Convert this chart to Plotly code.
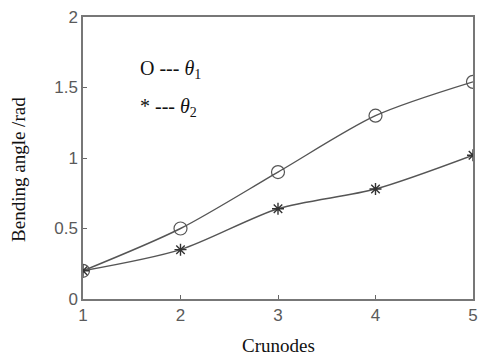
import plotly.graph_objects as go

crunodes = [1, 2, 3, 4, 5]
theta1 = [0.2, 0.5, 0.9, 1.3, 1.54]
theta2 = [0.2, 0.35, 0.64, 0.78, 1.02]
x_ticks = [1, 2, 3, 4, 5]
y_ticks = [0, 0.5, 1, 1.5, 2]
y_tick_text = ["0", "0.5", "1", "1.5", "2"]

line_col = "#555555"
fig = go.Figure()
fig.add_trace(go.Scatter(x=crunodes, y=theta1, mode="lines+markers",
                         line=dict(color=line_col, width=1.4, shape="spline", smoothing=0.8),
                         marker=dict(symbol="circle-open", size=13, color=line_col, line=dict(width=1.2))))
fig.add_trace(go.Scatter(x=crunodes, y=theta2, mode="lines+markers",
                         line=dict(color=line_col, width=1.4, shape="spline", smoothing=0.8),
                         marker=dict(symbol="asterisk-open", size=10, color="#333", line=dict(width=1.4))))

tick_font = dict(family="Liberation Sans, Arial", size=17, color="#5a5a5a")
fig.update_layout(
    width=486, height=360, showlegend=False,
    paper_bgcolor="white", plot_bgcolor="white",
    margin=dict(l=83, r=8, t=13, b=61),
    xaxis=dict(range=[1, 5], tickvals=x_ticks, ticks="inside", ticklen=4, tickcolor="#666",
               showline=True, linecolor="#777", linewidth=1.5, mirror=True, showgrid=False, zeroline=False,
               tickfont=tick_font),
    yaxis=dict(range=[0, 2], tickvals=y_ticks, ticktext=y_tick_text, ticks="inside", ticklen=4, tickcolor="#666",
               showline=True, linecolor="#777", linewidth=1.5, mirror=True, showgrid=False, zeroline=False,
               tickfont=tick_font),
    annotations=[
        dict(text="Crunodes", xref="paper", yref="paper", x=0.5, y=-0.12, xanchor="center", yanchor="top",
             showarrow=False, font=dict(family="Liberation Serif, Times New Roman", size=19, color="#111")),
        dict(text="Bending angle /rad", xref="paper", yref="paper", x=-0.165, y=0.46, xanchor="center",
             yanchor="middle", textangle=-90, showarrow=False,
             font=dict(family="Liberation Serif, Times New Roman", size=19, color="#111")),
        dict(text="O --- <i>θ</i><sub>1</sub>", xref="paper", yref="paper", x=0.14, y=0.815, xanchor="left",
             yanchor="middle", showarrow=False,
             font=dict(family="Liberation Serif, Times New Roman", size=20, color="#111")),
        dict(text="* --- <i>θ</i><sub>2</sub>", xref="paper", yref="paper", x=0.14, y=0.68, xanchor="left",
             yanchor="middle", showarrow=False,
             font=dict(family="Liberation Serif, Times New Roman", size=20, color="#111")),
    ],
)
fig.write_html("out.html")
